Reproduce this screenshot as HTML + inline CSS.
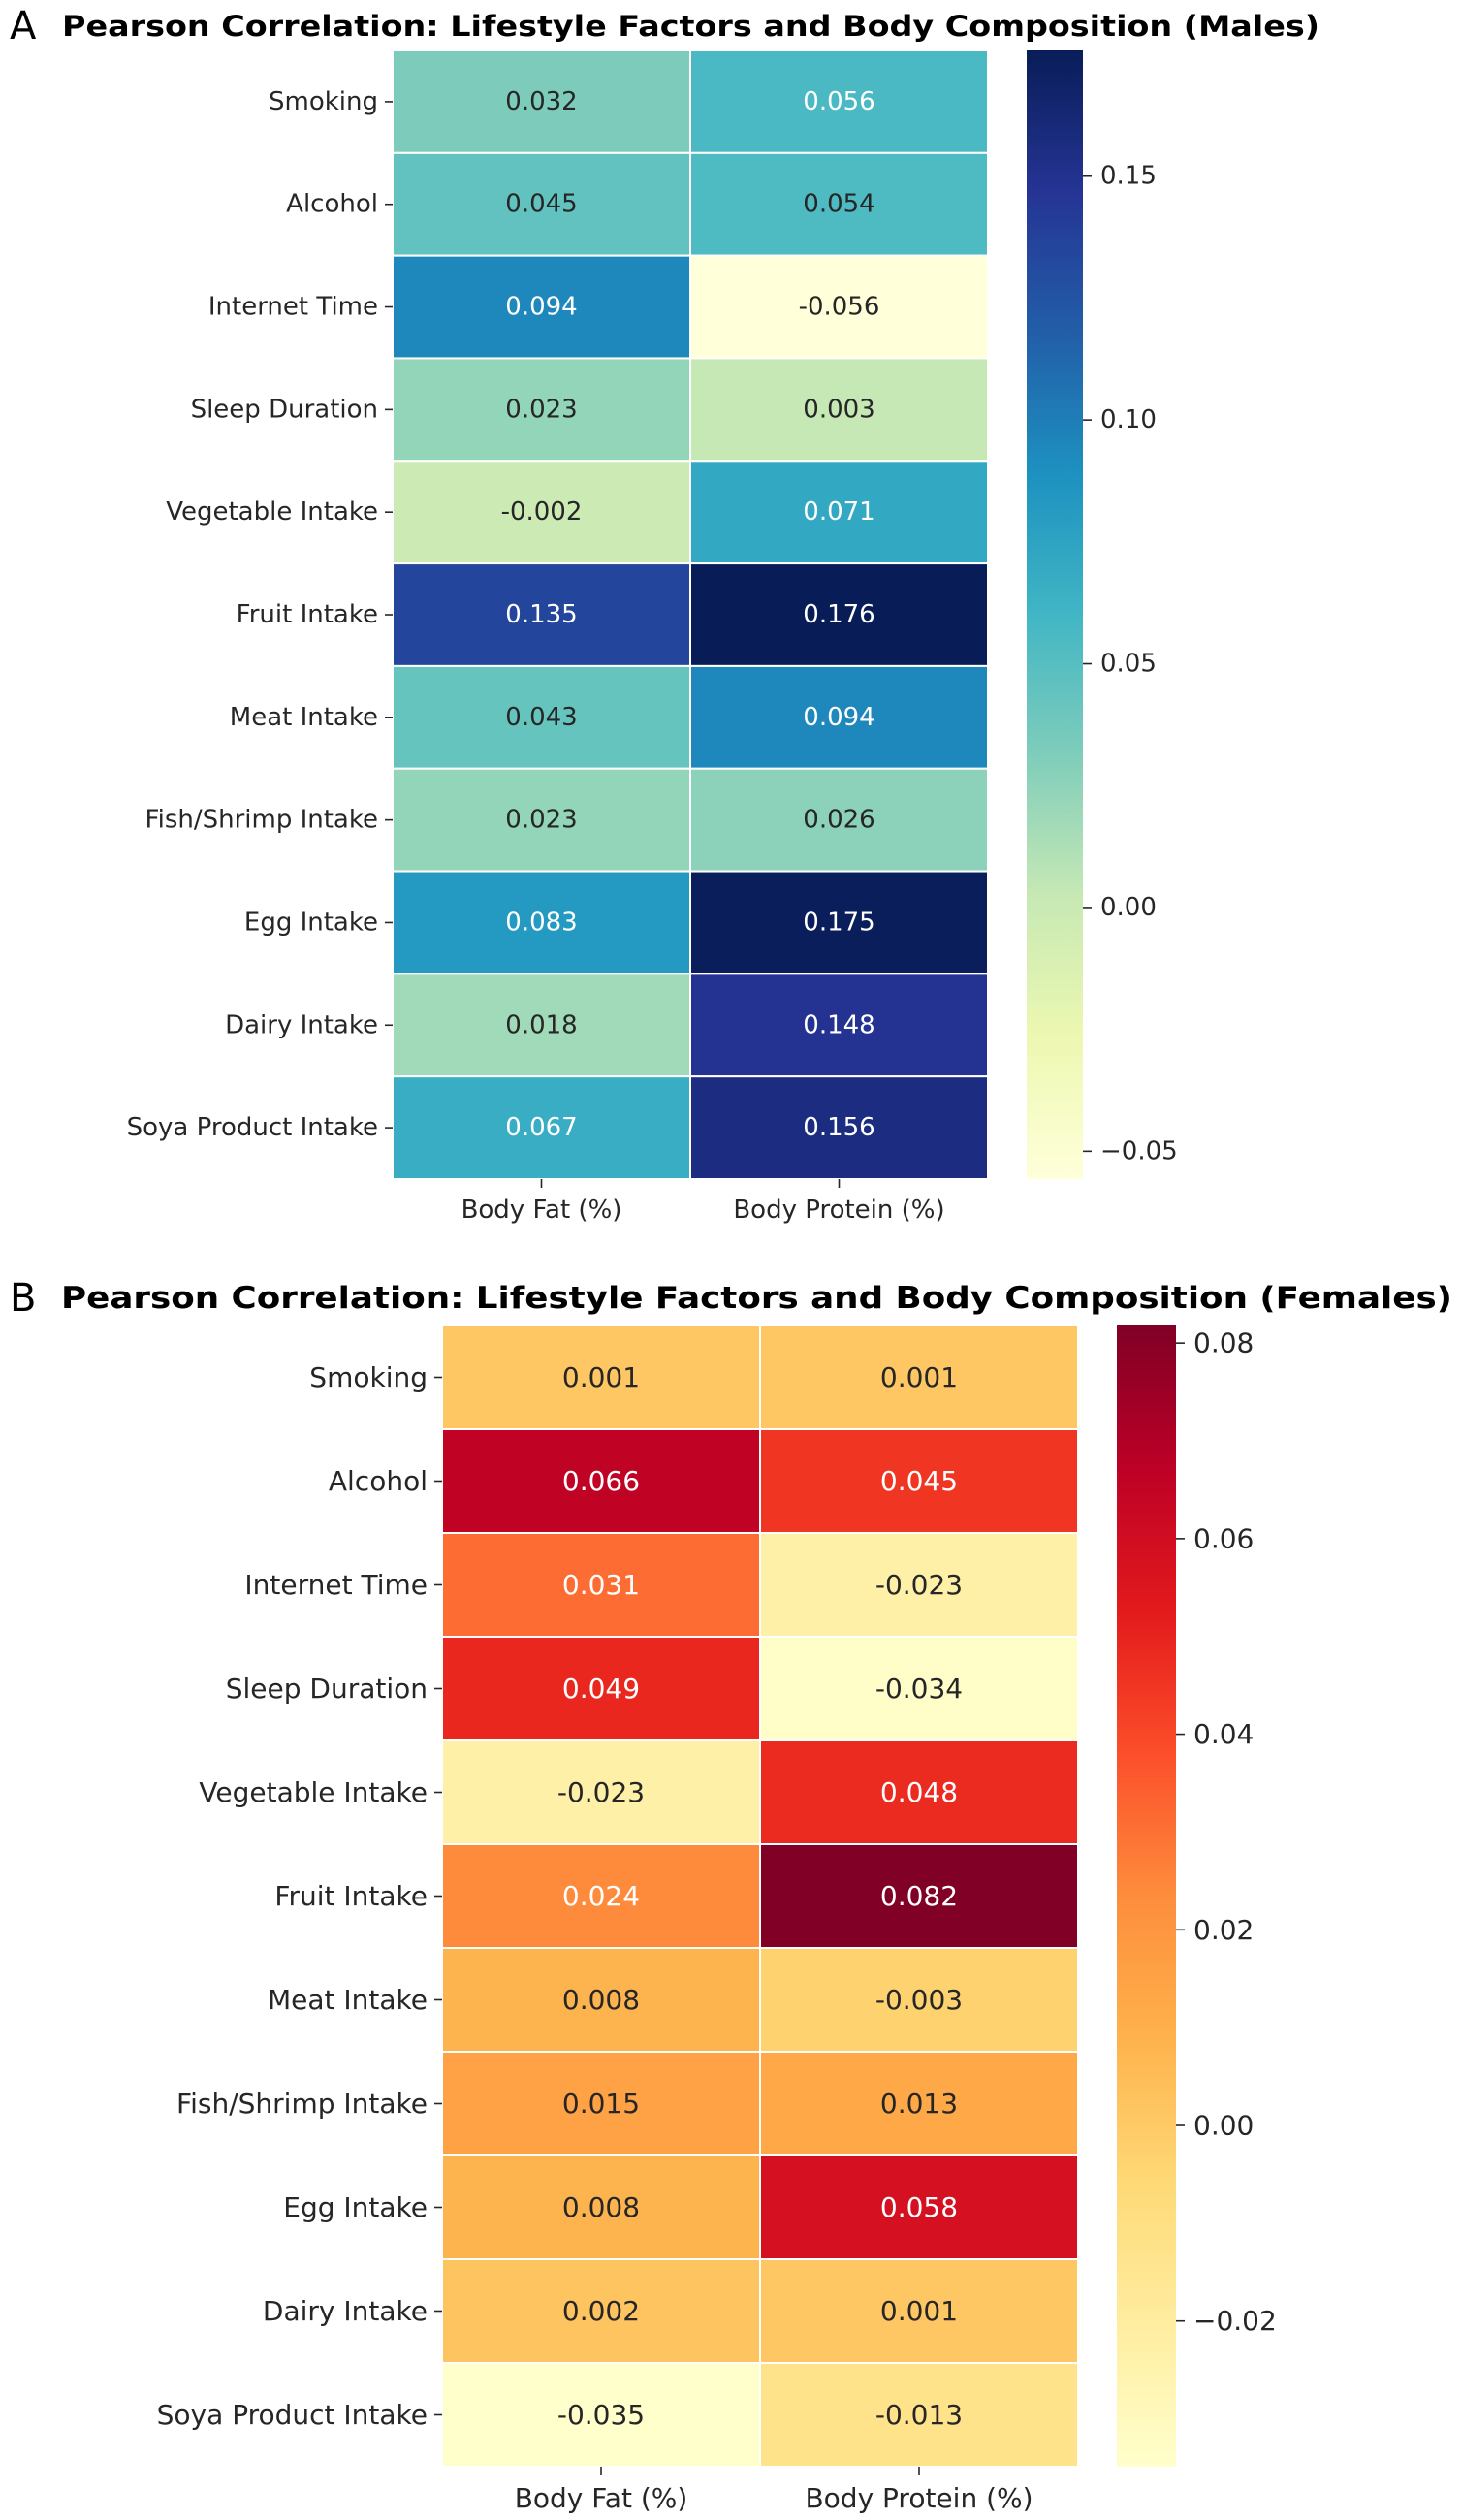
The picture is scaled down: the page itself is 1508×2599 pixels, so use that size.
<!DOCTYPE html>
<html><head><meta charset="utf-8"><style>
html,body{margin:0;padding:0;background:#fff;}
svg{display:block;}
text{font-family:"DejaVu Sans","Liberation Sans",sans-serif;}
</style></head><body>
<svg id="fig" width="1508" height="2599" viewBox="0 0 1508 2599" xmlns="http://www.w3.org/2000/svg">
<defs id="defs"></defs>
</svg>
<script>
const rowLabels = ["Smoking","Alcohol","Internet Time","Sleep Duration","Vegetable Intake","Fruit Intake","Meat Intake","Fish/Shrimp Intake","Egg Intake","Dairy Intake","Soya Product Intake"];
const colLabels = ["Body Fat (%)","Body Protein (%)"];
const maleFat = [0.032,0.045,0.094,0.023,-0.002,0.135,0.043,0.023,0.083,0.018,0.067];
const maleProtein = [0.056,0.054,-0.056,0.003,0.071,0.176,0.094,0.026,0.175,0.148,0.156];
const femaleFat = [0.001,0.066,0.031,0.049,-0.023,0.024,0.008,0.015,0.008,0.002,-0.035];
const femaleProtein = [0.001,0.045,-0.023,-0.034,0.048,0.082,-0.003,0.013,0.058,0.001,-0.013];
const maleTicks = [-0.05,0.00,0.05,0.10,0.15];
const femaleTicks = [-0.02,0.00,0.02,0.04,0.06,0.08];

const YlGnBu = ["#ffffd9","#edf8b1","#c7e9b4","#7fcdbb","#41b6c4","#1d91c0","#225ea8","#253494","#081d58"];
const YlOrRd = ["#ffffcc","#ffeda0","#fed976","#feb24c","#fd8d3c","#fc4e2a","#e31a1c","#bd0026","#800026"];

const NS = "http://www.w3.org/2000/svg";
const svg = document.getElementById('fig');
const defs = document.getElementById('defs');
function mk(tag, attrs, parent){
  const e = document.createElementNS(NS, tag);
  for (const k in attrs) e.setAttribute(k, attrs[k]);
  (parent||svg).appendChild(e);
  return e;
}
function hex2rgb(h){return [parseInt(h.slice(1,3),16),parseInt(h.slice(3,5),16),parseInt(h.slice(5,7),16)];}
function cmap(stops, t){
  t = Math.max(0, Math.min(1, t));
  const p = t*(stops.length-1), i = Math.min(Math.floor(p), stops.length-2), f = p-i;
  const a = hex2rgb(stops[i]), b = hex2rgb(stops[i+1]);
  return [0,1,2].map(k=>Math.round(a[k]+(b[k]-a[k])*f));
}
function lum(c){
  const l = c.map(v=>{v/=255;return v<=0.03928?v/12.92:Math.pow((v+0.055)/1.055,2.4);});
  return 0.2126*l[0]+0.7152*l[1]+0.0722*l[2];
}

function drawHeatmap(cfg){
  const g = mk('g', {});
  
  
  const nR = rowLabels.length, nC = colLabels.length;
  const cw = (cfg.x1-cfg.x0)/nC, rh = (cfg.y1-cfg.y0)/nR;
  const xs = c => cfg.x0 + c*cw;
  const ys = r => cfg.y0 + r*rh;
  const norm = v => (v-cfg.vmin)/(cfg.vmax-cfg.vmin);
  const lt = mk('text', {x:10, y:cfg.titleY+14, 'font-size':40, fill:'#000', 'font-family':'Liberation Sans, sans-serif'}, g);
  lt.textContent = cfg.letter;
  
  
  const tt = mk('text', {x:cfg.titleX0, y:cfg.titleY+11, 'font-size':cfg.titleSize, 'font-weight':'bold', fill:'#000', textLength:cfg.titleW, lengthAdjust:'spacingAndGlyphs'}, g);
  tt.textContent = cfg.title;
  
  
  for (let r=0;r<nR;r++){
    for (let c=0;c<nC;c++){
      const v = cfg.series[c][r];
      const col = cmap(cfg.stops, norm(v));
      const rect = mk('rect', {x:xs(c), y:ys(r), width:cw, height:rh, fill:`rgb(${col.join(',')})`, stroke:'#fff', 'stroke-width':2}, g);
      
      
      const t = mk('text', {x:xs(c)+cw/2, y:ys(r)+rh/2, 'font-size':cfg.fs, 'text-anchor':'middle', 'dominant-baseline':'central', fill: lum(col)>0.408?'#262626':'#ffffff'}, g);
      t.textContent = v.toFixed(3);
      
      
    }
  }
  for (let r=0;r<nR;r++){
    const yc = ys(r)+rh/2;
    mk('line', {x1:cfg.x0-8, x2:cfg.x0, y1:yc, y2:yc, stroke:'#262626', 'stroke-width':1.6}, g);
    const t = mk('text', {x:cfg.x0-15, y:yc, 'font-size':cfg.fs, 'text-anchor':'end', 'dominant-baseline':'central', fill:'#262626'}, g);
    t.textContent = rowLabels[r];
    
    
  }
  for (let c=0;c<nC;c++){
    const xc = xs(c)+cw/2;
    mk('line', {x1:xc, x2:xc, y1:cfg.y1, y2:cfg.y1+9, stroke:'#262626', 'stroke-width':1.6}, g);
    const t = mk('text', {x:xc, y:cfg.xLabelY, 'font-size':cfg.fs, 'text-anchor':'middle', fill:'#262626'}, g);
    t.textContent = colLabels[c];
    
    
  }
  const gid = 'grad-' + cfg.letter;
  const lg = mk('linearGradient', {id:gid, x1:0, y1:1, x2:0, y2:0}, defs);
  cfg.stops.forEach((s,i)=>mk('stop', {offset:i/(cfg.stops.length-1), 'stop-color':s}, lg));
  const cb = mk('rect', {x:cfg.cbx0, y:cfg.y0, width:cfg.cbx1-cfg.cbx0, height:cfg.y1-cfg.y0, fill:`url(#${gid})`}, g);
  
  
  const cby = v => cfg.y1 - norm(v)*(cfg.y1-cfg.y0);
  cfg.ticks.forEach(v=>{
    const y = cby(v);
    mk('line', {x1:cfg.cbx1, x2:cfg.cbx1+9, y1:y, y2:y, stroke:'#262626', 'stroke-width':1.6}, g);
    const t = mk('text', {x:cfg.cbx1+18, y:y, 'font-size':cfg.fs, 'dominant-baseline':'central', fill:'#262626'}, g);
    t.textContent = (v<0?'\u2212':'') + Math.abs(v).toFixed(2);
    
    
  });
}

drawHeatmap({name:'males-heatmap', letter:'A', title:'Pearson Correlation: Lifestyle Factors and Body Composition (Males)',
  titleX0:64, titleY:26, titleSize:29, titleW:1297,
  x0:405, x1:1019, y0:52, y1:1216, cbx0:1059, cbx1:1117,
  vmin:-0.0557, vmax:0.1758, stops:YlGnBu, ticks:maleTicks, series:[maleFat, maleProtein], fs:26, xLabelY:1256});
drawHeatmap({name:'females-heatmap', letter:'B', title:'Pearson Correlation: Lifestyle Factors and Body Composition (Females)',
  titleX0:63, titleY:1338, titleSize:31, titleW:1435,
  x0:456, x1:1112, y0:1367, y1:2544, cbx0:1152, cbx1:1213,
  vmin:-0.0349, vmax:0.0818, stops:YlOrRd, ticks:femaleTicks, series:[femaleFat, femaleProtein], fs:28, xLabelY:2586});
</script>
</body></html>
